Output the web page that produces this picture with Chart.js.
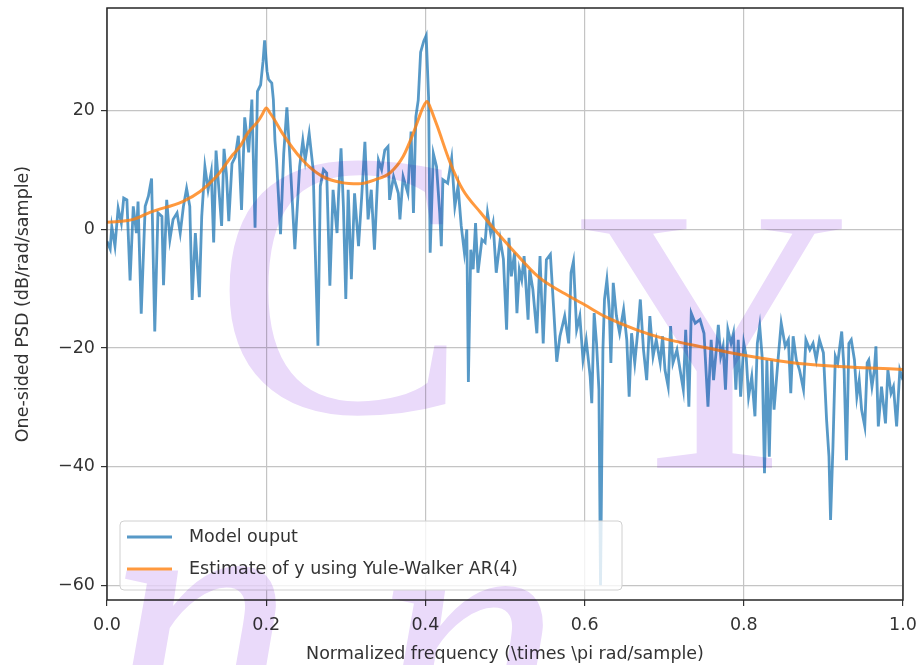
<!DOCTYPE html>
<html>
<head>
<meta charset="utf-8">
<script src="https://cdn.jsdelivr.net/npm/chart.js@4.4.0/dist/chart.umd.min.js"></script>
<style>
  html, body { margin: 0; padding: 0; background: #ffffff; }
  #wrap { width: 919px; height: 665px; position: relative; }
</style>
</head>
<body>
<div id="wrap"><canvas id="psdChart"></canvas></div>
<script>
// values
const modelFreq = [
  0.000, 0.004, 0.006, 0.010, 0.014, 0.018, 0.021, 0.025, 0.029, 0.033,
  0.037, 0.039, 0.043, 0.048, 0.052, 0.056, 0.060, 0.064, 0.069, 0.071,
  0.075, 0.079, 0.083, 0.088, 0.092, 0.096, 0.100, 0.104, 0.107, 0.111,
  0.116, 0.119, 0.123, 0.127, 0.131, 0.134, 0.137, 0.140, 0.144, 0.147,
  0.150, 0.153, 0.157, 0.161, 0.165, 0.169, 0.173, 0.178, 0.182, 0.186,
  0.189, 0.193, 0.196, 0.198, 0.201, 0.203, 0.207, 0.209, 0.211, 0.213,
  0.218, 0.222, 0.226, 0.230, 0.236, 0.242, 0.246, 0.249, 0.254, 0.259,
  0.261, 0.265, 0.268, 0.272, 0.276, 0.280, 0.284, 0.289, 0.291, 0.294,
  0.297, 0.300, 0.303, 0.307, 0.311, 0.316, 0.320, 0.324, 0.328, 0.332,
  0.336, 0.341, 0.345, 0.349, 0.353, 0.355, 0.360, 0.366, 0.368, 0.372,
  0.378, 0.382, 0.385, 0.388, 0.391, 0.394, 0.398, 0.401, 0.404, 0.406,
  0.410, 0.414, 0.418, 0.420, 0.422, 0.428, 0.433, 0.437, 0.441, 0.445,
  0.449, 0.452, 0.454, 0.457, 0.460, 0.463, 0.466, 0.471, 0.475, 0.478,
  0.482, 0.485, 0.489, 0.494, 0.498, 0.502, 0.505, 0.508, 0.512, 0.515,
  0.518, 0.521, 0.524, 0.529, 0.531, 0.535, 0.540, 0.544, 0.548, 0.552,
  0.557, 0.561, 0.565, 0.569, 0.575, 0.580, 0.583, 0.586, 0.590, 0.594,
  0.598, 0.602, 0.607, 0.609, 0.612, 0.615, 0.618, 0.620, 0.623, 0.625,
  0.628, 0.631, 0.633, 0.636, 0.640, 0.644, 0.649, 0.653, 0.656, 0.659,
  0.663, 0.667, 0.670, 0.674, 0.678, 0.682, 0.686, 0.690, 0.695, 0.698,
  0.701, 0.705, 0.708, 0.711, 0.716, 0.720, 0.724, 0.727, 0.731, 0.734,
  0.739, 0.745, 0.750, 0.755, 0.759, 0.762, 0.766, 0.768, 0.771, 0.774,
  0.777, 0.780, 0.784, 0.787, 0.790, 0.793, 0.796, 0.800, 0.803, 0.806,
  0.810, 0.814, 0.817, 0.820, 0.823, 0.826, 0.829, 0.832, 0.835, 0.838,
  0.843, 0.847, 0.852, 0.856, 0.859, 0.862, 0.866, 0.870, 0.875, 0.878,
  0.883, 0.887, 0.891, 0.895, 0.900, 0.904, 0.907, 0.909, 0.912, 0.915,
  0.918, 0.923, 0.926, 0.929, 0.932, 0.935, 0.939, 0.942, 0.945, 0.948,
  0.952, 0.955, 0.957, 0.961, 0.964, 0.966, 0.969, 0.973, 0.978, 0.981,
  0.985, 0.988, 0.992, 0.996, 1.000
];
const modelPsd = [
  -2.0, -3.3, 0.5, -2.8, 3.6, 1.1, 5.3, 5.0, -8.6, 3.9,
  -0.6, 4.7, -14.2, 3.9, 5.6, 8.6, -17.2, 2.8, 2.2, -9.4,
  5.0, -1.7, 1.7, 2.8, -0.6, 3.9, 6.9, 3.9, -11.9, -0.6,
  -11.4, 2.2, 10.6, 6.7, 9.7, -2.2, 13.3, 7.8, 0.6, 13.6,
  9.4, 1.4, 11.1, 12.2, 15.8, 3.3, 18.9, 13.0, 21.9, 0.3,
  23.3, 24.4, 28.3, 31.9, 26.7, 25.3, 24.7, 21.9, 15.0, 11.7,
  -0.8, 12.8, 20.6, 11.7, -3.3, 10.6, 15.0, 11.7, 16.2, 10.1,
  -0.6, -19.6, 7.3, 10.1, 9.5, -9.5, 6.7, -0.6, 6.1, 13.7,
  3.9, -11.7, 6.7, -8.4, 6.1, -2.8, 5.6, 14.8, 1.7, 6.7,
  -3.4, 11.7, 10.1, 13.4, 14.0, 5.0, 8.9, 6.1, 1.7, 8.9,
  6.1, 16.5, 2.8, 19.0, 21.8, 29.9, 31.8, 32.7, 22.3, -3.9,
  12.8, 10.6, 2.8, -2.8, 8.4, 7.8, 12.0, 3.9, 7.3, 0.6,
  -3.9, 0.0, -25.7, -3.4, -6.7, 1.1, -7.3, -1.7, -2.2, 2.8,
  -0.6, 1.1, -7.3, -1.7, -5.0, -16.9, -1.4, -7.9, -3.9, -14.1,
  -6.8, -8.5, -4.5, -15.2, -6.8, -10.1, -17.5, -4.5, -19.2, -5.1,
  -4.2, -13.0, -22.3, -18.0, -14.6, -19.2, -7.3, -5.4, -16.9, -14.6,
  -22.0, -18.6, -24.8, -29.3, -14.1, -19.2, -27.0, -60.0, -20.3, -11.8,
  -8.5, -13.5, -22.5, -9.0, -14.6, -17.5, -13.5, -18.6, -28.2, -17.5,
  -22.5, -16.9, -11.8, -20.3, -25.4, -14.6, -21.4, -18.6, -22.5, -18.0,
  -23.7, -26.5, -16.3, -22.5, -20.3, -23.7, -27.0, -16.9, -29.9, -14.1,
  -15.8, -15.2, -17.5, -29.9, -18.6, -25.4, -19.4, -16.1, -21.4, -19.7,
  -27.0, -16.9, -19.2, -17.5, -27.0, -18.6, -28.2, -19.2, -21.4, -28.2,
  -24.8, -31.5, -19.2, -16.3, -21.4, -41.1, -22.0, -38.3, -22.0, -30.4,
  -22.0, -15.8, -19.7, -18.6, -27.6, -18.0, -22.0, -23.7, -27.0, -18.6,
  -20.3, -19.2, -22.0, -18.6, -20.8, -32.1, -38.3, -49.0, -36.6, -21.4,
  -22.5, -17.2, -23.7, -38.9, -19.2, -18.6, -22.0, -28.2, -25.4, -30.4,
  -33.2, -22.5, -22.0, -26.5, -23.7, -19.7, -33.2, -26.5, -32.7, -23.7,
  -27.6, -26.5, -33.2, -23.7, -25.4
];

const arFreq = [
  0.000, 0.033, 0.054, 0.095, 0.117, 0.138, 0.158, 0.167, 0.177, 0.190,
  0.195, 0.200, 0.205, 0.210, 0.220, 0.245, 0.270, 0.295, 0.316, 0.337,
  0.356, 0.372, 0.385, 0.392, 0.397, 0.402, 0.406, 0.410, 0.415, 0.431,
  0.447, 0.469, 0.490, 0.506, 0.542, 0.584, 0.600, 0.626, 0.667, 0.700,
  0.751, 0.800, 0.877, 0.950, 1.000
];
const arPsd = [
  1.2, 1.7, 2.9, 4.7, 6.4, 9.0, 12.6, 14.0, 16.3, 18.3,
  19.4, 20.5, 19.6, 18.6, 16.3, 11.8, 9.0, 7.9, 7.7, 8.4,
  9.6, 12.3, 16.3, 18.9, 20.6, 21.6, 20.6, 19.2, 17.4, 11.3,
  6.7, 2.9, -0.5, -2.9, -8.0, -11.5, -12.7, -14.7, -17.0, -18.4,
  -19.9, -21.2, -22.7, -23.3, -23.6
];

const seriesLabels = ['Model ouput', 'Estimate of y using Yule-Walker AR(4)'];
const xTicks = [0.0, 0.2, 0.4, 0.6, 0.8, 1.0];
const yTicks = [-60, -40, -20, 0, 20];
const xTitle = 'Normalized frequency (\\times \\pi rad/sample)';
const yTitle = 'One-sided PSD (dB/rad/sample)';
const watermarkText = ['C', 'Y', 'n', 'n'];

const blueLine = 'rgba(31, 119, 180, 0.75)';
const orangeLine = 'rgba(255, 127, 14, 0.8)';
const textColor = '#333333';
const tickFont = { family: 'DejaVu Sans', size: 17.5 };

function pairUp(xs, ys) {
  return xs.map((x, i) => ({ x: x, y: ys[i] }));
}

// top/right spines like matplotlib
const framePlugin = {
  id: 'frame',
  afterDatasetsDraw(chart) {
    const a = chart.chartArea;
    const ctx = chart.ctx;
    ctx.save();
    ctx.strokeStyle = '#262626';
    ctx.lineWidth = 1.5;
    ctx.strokeRect(a.left, a.top, a.right - a.left, a.bottom - a.top);
    ctx.restore();
  }
};

// legend box in the lower left corner of the axes
const boxLegend = {
  id: 'boxLegend',
  afterDraw(chart) {
    const ctx = chart.ctx;
    const x = 120, y = 521, w = 502, h = 69, r = 4;
    ctx.save();
    ctx.beginPath();
    ctx.moveTo(x + r, y);
    ctx.arcTo(x + w, y, x + w, y + h, r);
    ctx.arcTo(x + w, y + h, x, y + h, r);
    ctx.arcTo(x, y + h, x, y, r);
    ctx.arcTo(x, y, x + w, y, r);
    ctx.closePath();
    ctx.fillStyle = 'rgba(255,255,255,0.8)';
    ctx.fill();
    ctx.strokeStyle = '#d0d0d0';
    ctx.lineWidth = 1;
    ctx.stroke();

    const rows = [537, 569];
    chart.data.datasets.forEach((ds, i) => {
      ctx.strokeStyle = ds.borderColor;
      ctx.lineWidth = 3;
      ctx.beginPath();
      ctx.moveTo(127, rows[i]);
      ctx.lineTo(172, rows[i]);
      ctx.stroke();
      ctx.fillStyle = textColor;
      ctx.font = '17.5px "DejaVu Sans"';
      ctx.textBaseline = 'middle';
      ctx.fillText(ds.label, 189, rows[i]);
    });
    ctx.restore();
  }
};

// faint lavender watermark over the whole picture
const watermark = {
  id: 'watermark',
  afterDraw(chart) {
    const ctx = chart.ctx;
    ctx.save();
    ctx.globalCompositeOperation = 'multiply';
    ctx.fillStyle = 'rgb(234, 218, 250)';
    ctx.font = '380px "Liberation Serif"';
    ctx.textBaseline = 'alphabetic';
    ctx.fillText(watermarkText[0], 214, 412);
    ctx.fillText(watermarkText[1], 577, 468);
    ctx.font = 'italic 380px "Liberation Serif"';
    ctx.fillText(watermarkText[2], 105, 745);
    ctx.fillText(watermarkText[3], 372, 765);
    ctx.restore();
  }
};

new Chart(document.getElementById('psdChart'), {
  type: 'line',
  data: {
    datasets: [
      {
        label: seriesLabels[0],
        data: pairUp(modelFreq, modelPsd),
        borderColor: blueLine,
        borderWidth: 2.8,
        pointRadius: 0,
        tension: 0,
        order: 2
      },
      {
        label: seriesLabels[1],
        data: pairUp(arFreq, arPsd),
        borderColor: orangeLine,
        borderWidth: 3,
        pointRadius: 0,
        cubicInterpolationMode: 'monotone',
        order: 1
      }
    ]
  },
  options: {
    responsive: true,
    maintainAspectRatio: false,
    animation: false,
    layout: { padding: { top: 8, right: 16, left: 0, bottom: 0 } },
    plugins: {
      legend: { display: false },
      tooltip: { enabled: false }
    },
    scales: {
      x: {
        type: 'linear',
        min: 0,
        max: 1,
        afterBuildTicks: s => { s.ticks = xTicks.map(v => ({ value: v })); },
        afterFit: s => { s.height = 65; s.paddingLeft = 0; s.paddingRight = 0; },
        ticks: {
          autoSkip: false,
          maxRotation: 0,
          padding: 9,
          color: textColor,
          font: tickFont,
          callback: v => Number(v).toFixed(1)
        },
        grid: { color: '#c4c4c4', lineWidth: 1.2, tickColor: '#333333', tickLength: 6 },
        border: { display: false },
        title: {
          display: true,
          text: xTitle,
          color: textColor,
          font: tickFont,
          padding: { top: 2, bottom: 0 }
        }
      },
      y: {
        type: 'linear',
        min: -62.48,
        max: 37.35,
        afterBuildTicks: s => { s.ticks = yTicks.map(v => ({ value: v })); },
        afterFit: s => { s.width = 107; s.paddingTop = 0; s.paddingBottom = 0; },
        ticks: {
          autoSkip: false,
          padding: 6,
          color: textColor,
          font: tickFont,
          callback: v => (v < 0 ? '\u2212' + Math.abs(v) : String(v))
        },
        grid: { color: '#c4c4c4', lineWidth: 1.2, tickColor: '#333333', tickLength: 6 },
        border: { display: false },
        title: {
          display: true,
          text: yTitle,
          color: textColor,
          font: tickFont,
          padding: { top: 13, bottom: 0 }
        }
      }
    }
  },
  plugins: [framePlugin, boxLegend, watermark]
});
</script>
</body>
</html>
